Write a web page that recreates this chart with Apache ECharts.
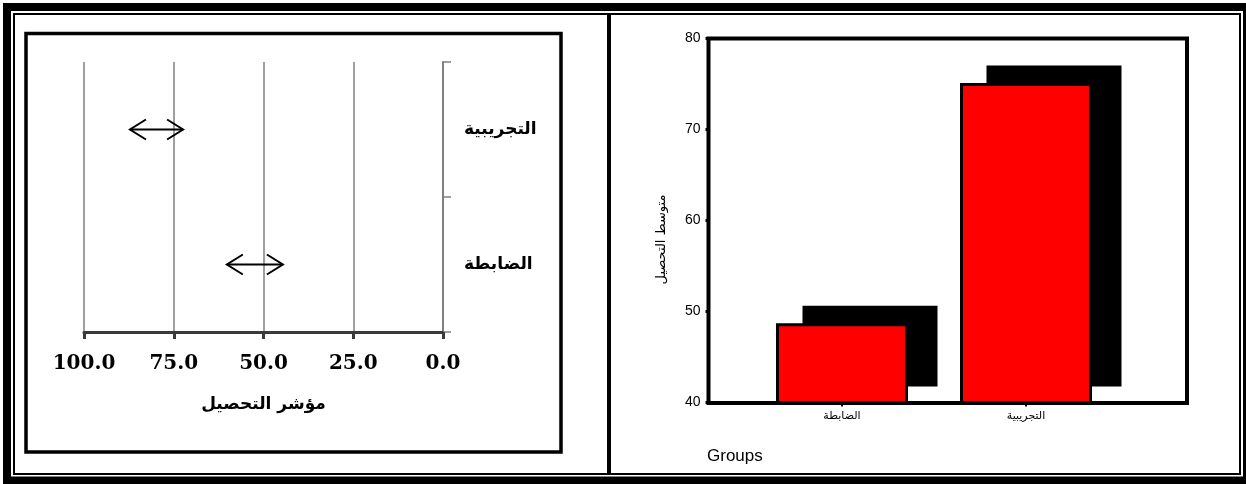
<!DOCTYPE html>
<html>
<head>
<meta charset="utf-8">
<script src="https://cdn.jsdelivr.net/npm/echarts@6/dist/echarts.min.js"></script>
<style>
  html, body { margin: 0; padding: 0; background: #fff; }
  #chart { width: 1246px; height: 484px; }
</style>
</head>
<body>
<div id="chart"></div>
<script>
// left panel: achievement index intervals per group
const groupsLeft = ['الضابطة', 'التجريبية'];
const intervalLow = [44.6, 72.4];
const intervalHigh = [60.2, 87.2];
const leftAxisMin = 0;
const leftAxisMax = 100;
const leftAxisStep = 25;

// right panel: mean achievement per group
const groupsRight = ['الضابطة', 'التجريبية'];
const meanScores = [48.7, 75.1];
const rightAxisMin = 40;
const rightAxisMax = 80;
const rightAxisStep = 10;

const arabicFont = 'DejaVu Sans';
const barW = 132;

// double headed arrow between low and high of each group
const renderArrow = (params, api) => {
  const a = api.coord([api.value(0), api.value(2)]);
  const b = api.coord([api.value(1), api.value(2)]);
  const y = a[1];
  const xl = Math.min(a[0], b[0]);
  const xr = Math.max(a[0], b[0]);
  const hw = 16, hh = 10;
  const style = { stroke: '#000', lineWidth: 2, fill: null };
  return {
    type: 'group',
    children: [
      { type: 'line', shape: { x1: xl, y1: y, x2: xr, y2: y }, style },
      { type: 'polyline', shape: { points: [[xl + hw, y - hh], [xl, y], [xl + hw, y + hh]] }, style },
      { type: 'polyline', shape: { points: [[xr - hw, y - hh], [xr, y], [xr - hw, y + hh]] }, style }
    ]
  };
};

// black "depth" block drawn behind each red bar
const renderDepth = (params, api) => {
  const top = api.coord([api.value(0), api.value(1)]);
  const base = api.coord([api.value(0), rightAxisMin]);
  const dx = 28, dy = -16, w = barW + 3;
  return {
    type: 'rect',
    shape: { x: top[0] - w / 2 + dx, y: top[1] - 1.5 + dy, width: w, height: base[1] - top[1] + 1.5 },
    style: { fill: '#000' }
  };
};

const frame = (x, y, w, h, lw) => ({
  type: 'rect', silent: true, z: 100,
  shape: { x, y, width: w, height: h },
  style: { fill: 'none', stroke: '#000', lineWidth: lw }
});

const chart = echarts.init(document.getElementById('chart'));

const option = {
  animation: false,
  title: {
    text: 'Groups', left: 707, top: 448, padding: 0,
    textStyle: { fontFamily: 'Liberation Sans', fontSize: 17, fontWeight: 'normal', color: '#000' }
  },
  grid: [
    { left: 84, top: 62, width: 359, height: 270, outerBoundsMode: 'none' },
    { left: 750, top: 38.5, width: 368, height: 364, outerBoundsMode: 'none' }
  ],
  xAxis: [
    {
      gridIndex: 0, type: 'value', inverse: true,
      min: leftAxisMin, max: leftAxisMax, interval: leftAxisStep,
      name: 'مؤشر التحصيل', nameLocation: 'middle', nameGap: 64,
      nameTextStyle: { fontFamily: arabicFont, fontWeight: 'bold', fontSize: 17, color: '#000' },
      axisLine: { show: true, lineStyle: { color: '#3a3a3a', width: 3 } },
      axisTick: { show: true, length: 7, lineStyle: { color: '#3a3a3a', width: 3 } },
      axisLabel: {
        margin: 22, color: '#000', fontFamily: 'DejaVu Serif', fontWeight: 'bold', fontSize: 20,
        formatter: v => v.toFixed(1)
      },
      splitLine: { show: true, lineStyle: { color: '#7f7f7f', width: 1.5 } }
    },
    {
      gridIndex: 1, type: 'category', data: groupsRight,
      axisLine: { show: false },
      axisTick: { show: true, alignWithLabel: true, length: 4, lineStyle: { color: '#000', width: 2 } },
      axisLabel: { margin: 8, color: '#000', fontFamily: arabicFont, fontSize: 11 }
    }
  ],
  yAxis: [
    {
      gridIndex: 0, type: 'category', data: groupsLeft, position: 'right',
      axisLine: { show: true, lineStyle: { color: '#7f7f7f', width: 2 } },
      axisTick: { show: true, length: 8, lineStyle: { color: '#7f7f7f', width: 1.5 } },
      axisLabel: { margin: 21, color: '#000', fontFamily: arabicFont, fontWeight: 'bold', fontSize: 17 }
    },
    {
      gridIndex: 1, type: 'value',
      min: rightAxisMin, max: rightAxisMax, interval: rightAxisStep,
      offset: 41.5,
      name: 'متوسط التحصيل', nameLocation: 'middle', nameGap: 40, nameRotate: 90,
      nameTextStyle: { fontFamily: arabicFont, fontSize: 13, color: '#000', padding: [0, 38, 0, 0] },
      axisLine: { show: false },
      axisTick: { show: true, length: 3, lineStyle: { color: '#000', width: 3 } },
      axisLabel: { margin: 8, color: '#000', fontFamily: 'Liberation Sans', fontSize: 14 },
      splitLine: { show: false }
    }
  ],
  series: [
    {
      type: 'custom', xAxisIndex: 0, yAxisIndex: 0,
      renderItem: renderArrow,
      encode: { x: [0, 1], y: 2 },
      data: groupsLeft.map((g, i) => [intervalLow[i], intervalHigh[i], i]),
      silent: true
    },
    {
      type: 'custom', xAxisIndex: 1, yAxisIndex: 1,
      renderItem: renderDepth,
      encode: { x: 0, y: 1 },
      data: meanScores.map((v, i) => [i, v]),
      silent: true, z: 1
    },
    {
      type: 'bar', xAxisIndex: 1, yAxisIndex: 1,
      data: meanScores, barWidth: barW,
      itemStyle: { color: '#ff0000', borderColor: '#000', borderWidth: 3 },
      emphasis: { disabled: true },
      silent: true, z: 2
    }
  ],
  graphic: [
    frame(7, 7, 1240, 473.5, 8),
    frame(14, 14, 1226, 460, 2),
    { type: 'line', silent: true, z: 100, shape: { x1: 609, y1: 14, x2: 609, y2: 474 }, style: { stroke: '#000', lineWidth: 4 } },
    frame(26, 33.5, 535, 418.5, 3.5),
    frame(708.5, 38.5, 478.5, 364.5, 4)
  ]
};

chart.setOption(option);

window.addEventListener('resize', () => chart.resize());
</script>
</body>
</html>
